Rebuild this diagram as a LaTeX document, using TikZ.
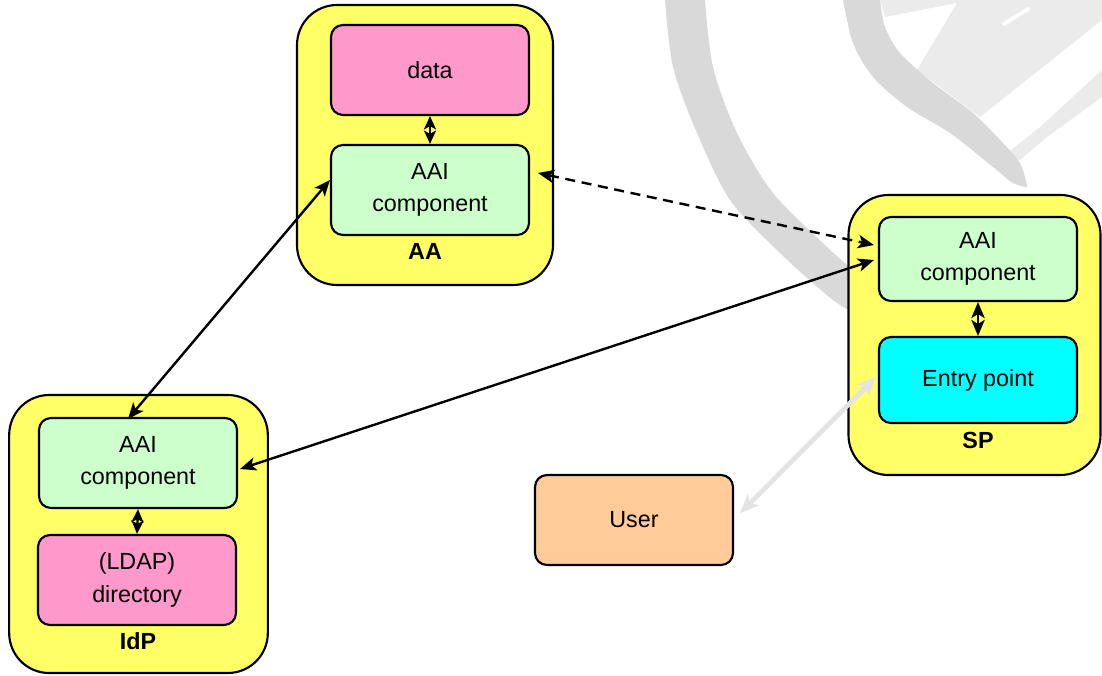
\documentclass[tikz,border=0pt]{standalone}
\usepackage{fontspec}
\setmainfont{Liberation Sans}
\usetikzlibrary{arrows.meta,calc}

\definecolor{boxyellow}{HTML}{FFFF66}
\definecolor{datapink}{HTML}{FF99CC}
\definecolor{aaigreen}{HTML}{CCFFCC}
\definecolor{entrycyan}{HTML}{00FFFF}
\definecolor{userorange}{HTML}{FFCC99}
\definecolor{wmdark}{HTML}{D9D9D9}
\definecolor{wmlight}{HTML}{EBEBEB}
\definecolor{userlink}{HTML}{E3E3E3}

\tikzset{every picture/.style={line width=0.75pt}}

\begin{document}
\begin{tikzpicture}[x=0.75pt,y=0.75pt,yscale=-1,xscale=1,
	outer/.style={draw, line width=1.6pt, fill=boxyellow, rounded corners=30pt, minimum height=210pt},
	inner/.style={draw, line width=1.6pt, rounded corners=9pt, minimum width=148.5pt, align=center, font=\fontsize{17.5}{24.5}\selectfont},
	label/.style={font=\fontsize{17.5}{20}\selectfont\bfseries},
	link/.style={line width=1.8pt, {Stealth[length=12pt,width=10pt,inset=3pt]}-{Stealth[length=12pt,width=10pt,inset=3pt]}},
	short/.style={line width=1.8pt, {Stealth[length=10pt,width=9pt,inset=2.5pt]}-{Stealth[length=10pt,width=9pt,inset=2.5pt]}}]
	\useasboundingbox (0,0) rectangle (1102,675);

	% watermark logo
	\fill[wmlight] (880,0) -- (1102,0) -- (1102,20) -- (980,117) -- (917,70) -- (957,3) -- (885,17) -- cycle;
	\fill[wmlight] (1005,155) -- (1040,127) -- (1102,70) -- (1102,97) -- (1047,137) -- (1020,160) -- cycle;
	\draw[white, line width=3pt, line cap=round] (1004,24) -- (1028,9);
	\fill[wmdark] plot[smooth] coordinates {(665,0) (673,67) (697,133) (730,200) (780,253) (833,300) (870,322)}
		-- (870,275) -- plot[smooth] coordinates {(850,267) (827,247) (773,193) (737,133) (713,67) (705,0)} -- cycle;
	\fill[wmdark] plot[smooth] coordinates {(843,0) (853,43) (873,77) (907,107) (950,133) (993,167) (1013,183) (1027,187)}
		-- plot[smooth] coordinates {(1027,185) (1020,163) (1003,143) (973,113) (933,83) (900,53) (885,27) (880,0)} -- cycle;

	% AA
	\node[outer, minimum width=192pt] (aaBox) at (425,145) {};
	\node[inner, fill=datapink, minimum height=67.5pt] (data) at (430,70) {data};
	\node[inner, fill=aaigreen, minimum height=67.5pt] (aaiAA) at (430,190) {AAI\\component};
	\node[label] (aaLabel) at (425,251) {AA};

	% IdP
	\node[outer, minimum width=194pt, minimum height=208.5pt] (idpBox) at (138.5,534) {};
	\node[inner, fill=aaigreen, minimum height=67.5pt] (aaiIdP) at (138,463) {AAI\\component};
	\node[inner, fill=datapink, minimum height=67.5pt] (dir) at (137,580) {(LDAP)\\directory};
	\node[label] (idpLabel) at (138,641) {IdP};

	% SP
	\node[outer, minimum width=189pt] (spBox) at (974.5,335) {};
	\node[inner, fill=aaigreen, minimum height=63pt] (aaiSP) at (978,259) {AAI\\component};
	\node[inner, fill=entrycyan, minimum height=64.5pt] (entry) at (978,380) {Entry point};
	\node[label] (spLabel) at (978,440) {SP};

	% User
	\node[inner, fill=userorange, minimum height=67.5pt] (user) at (634,520) {User};

	% connectors
	\draw[short] (data.south) -- (aaiAA.north);
	\draw[short] (aaiIdP.south) -- (dir.north);
	\draw[link] (aaiSP.south) -- (entry.north);
	\draw[link] ($(aaiIdP.north)+(-10,2)$) -- ($(aaiAA.west)+(0,-10)$);
	\draw[link, dash pattern=on 7.5pt off 5pt] ($(aaiAA.east)+(8,-17)$) -- ($(aaiSP.west)+(-4,-14)$);
	\draw[link] ($(aaiIdP.east)+(2,6)$) -- ($(aaiSP.west)+(-4,1)$);
	\draw[userlink, line width=3.5pt, {Stealth[length=14pt,width=12pt,inset=3.5pt]}-{Stealth[length=14pt,width=12pt,inset=3.5pt]}] ($(user.east)+(6,-7)$) -- ($(entry.west)+(-2,-3)$);

\end{tikzpicture}
\end{document}
